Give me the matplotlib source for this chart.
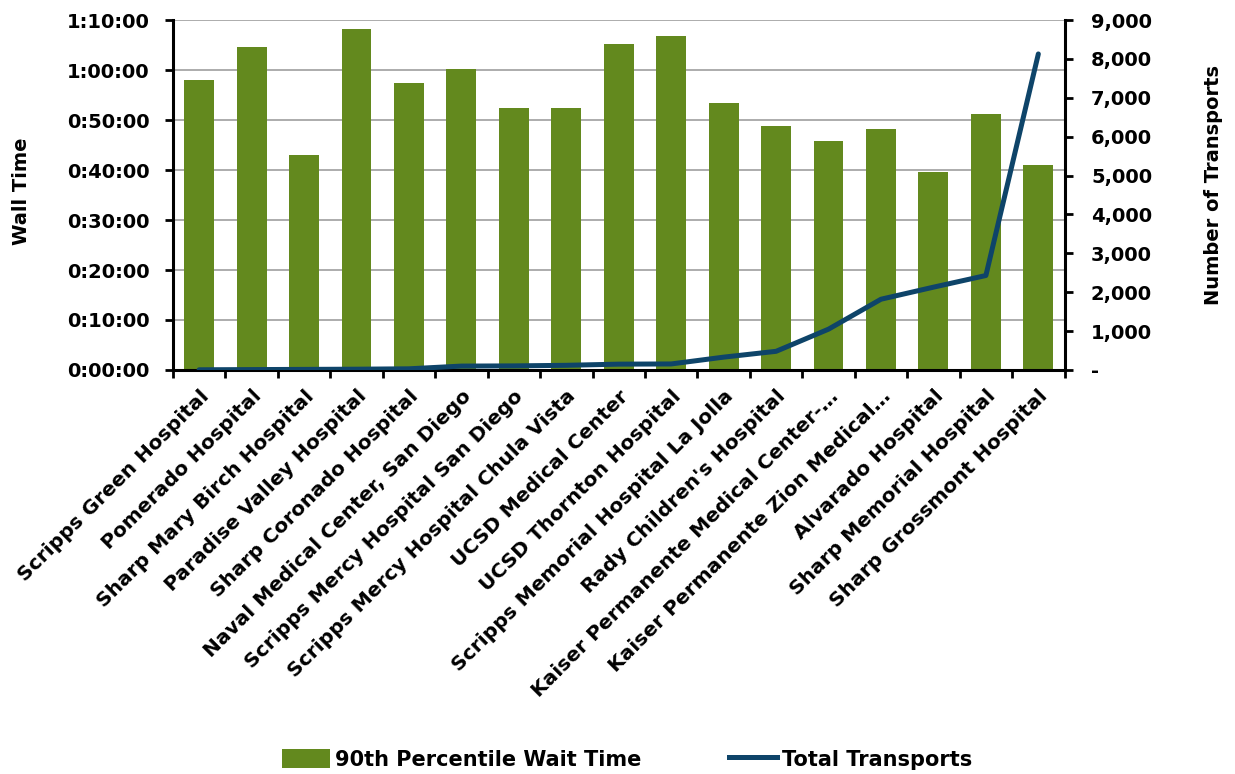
import matplotlib
matplotlib.use("Agg")
import matplotlib.pyplot as plt
from matplotlib.ticker import FuncFormatter, MultipleLocator, FixedLocator, NullFormatter
from matplotlib.patches import Patch
from matplotlib.lines import Line2D

hospitals = [
    "Scripps Green Hospital",
    "Pomerado Hospital",
    "Sharp Mary Birch Hospital",
    "Paradise Valley Hospital",
    "Sharp Coronado Hospital",
    "Naval Medical Center, San Diego",
    "Scripps Mercy Hospital San Diego",
    "Scripps Mercy Hospital Chula Vista",
    "UCSD Medical Center",
    "UCSD Thornton Hospital",
    "Scripps Memorial Hospital La Jolla",
    "Rady Children's Hospital",
    "Kaiser Permanente Medical Center-…",
    "Kaiser Permanente Zion Medical…",
    "Alvarado Hospital",
    "Sharp Memorial Hospital",
    "Sharp Grossmont Hospital",
]

# 90th percentile wait time, in minutes
wait_minutes = [58.1, 64.6, 43.1, 68.2, 57.5, 60.2, 52.4, 52.4, 65.2, 66.8,
                53.5, 48.9, 45.9, 48.2, 39.6, 51.2, 41.0]

# total transports per hospital
transports = [5, 10, 15, 20, 30, 100, 105, 120, 150, 155,
              330, 480, 1050, 1820, 2130, 2430, 8130]

bar_color = "#63891E"
line_color = "#0E4469"
grid_color = "#A6A6A6"

plt.rcParams["font.family"] = ["DejaVu Sans"]
plt.rcParams["font.weight"] = "bold"

fig = plt.figure(figsize=(12.35, 7.74), dpi=100)
ax = fig.add_axes([0.140, 0.522, 0.722, 0.452])
ax2 = ax.twinx()

x = list(range(len(hospitals)))
ax.bar(x, wait_minutes, width=0.57, color=bar_color, zorder=2)
ax2.plot(x, transports, color=line_color, lw=3.6, solid_capstyle="round",
         solid_joinstyle="round", zorder=3)

ax.set_xlim(-0.5, len(hospitals) - 0.5)
ax.set_ylim(0, 70)
ax2.set_ylim(0, 9000)


def hms(v, pos):
    total = int(round(v * 60))
    h, rem = divmod(total, 3600)
    m, s = divmod(rem, 60)
    return f"{h}:{m:02d}:{s:02d}"


def thousands(v, pos):
    return "-" if v == 0 else f"{int(v):,}"


ax.yaxis.set_major_locator(MultipleLocator(10))
ax.yaxis.set_major_formatter(FuncFormatter(hms))
ax2.yaxis.set_major_locator(MultipleLocator(1000))
ax2.yaxis.set_major_formatter(FuncFormatter(thousands))

ax.yaxis.grid(True, color=grid_color, lw=1.3, zorder=0)
ax.set_axisbelow(True)

ax.set_xticks(x)
ax.set_xticklabels(hospitals, rotation=45, ha="right", rotation_mode="anchor",
                   fontsize=14.5, fontweight="bold")
ax.tick_params(axis="x", which="major", length=0, pad=12)
ax.xaxis.set_minor_locator(FixedLocator([i - 0.5 for i in range(len(hospitals) + 1)]))
ax.xaxis.set_minor_formatter(NullFormatter())
ax.tick_params(axis="x", which="minor", length=6, width=2, direction="out")

ax.tick_params(axis="y", length=6, width=2, labelsize=14, pad=11)
ax2.tick_params(axis="y", length=6, width=2, labelsize=14, pad=13)
for lab in ax.get_yticklabels() + ax2.get_yticklabels():
    lab.set_fontweight("bold")

for a in (ax, ax2):
    a.spines["top"].set_visible(False)
    for side in ("left", "right", "bottom"):
        a.spines[side].set_linewidth(2.2)
ax.spines["right"].set_visible(False)
ax2.spines["left"].set_visible(False)
ax2.spines["bottom"].set_visible(False)

ax.set_ylabel("Wall Time", fontsize=14, fontweight="bold")
ax.yaxis.set_label_coords(-0.159, 0.51)
ax2.set_ylabel("Number of Transports", fontsize=14, fontweight="bold", rotation=90)
ax2.yaxis.set_label_coords(1.156, 0.53)

handles = [Patch(facecolor=bar_color, label="90th Percentile Wait Time"),
           Line2D([0], [0], color=line_color, lw=3.6, label="Total Transports")]
fig.legend(handles=handles, loc="center", bbox_to_anchor=(0.508, 0.019),
           ncol=2, frameon=False, handlelength=2.3, handleheight=1.0,
           handletextpad=0.25, columnspacing=4.2,
           prop={"weight": "bold", "size": 15})

fig.savefig("out.png", dpi=100)
